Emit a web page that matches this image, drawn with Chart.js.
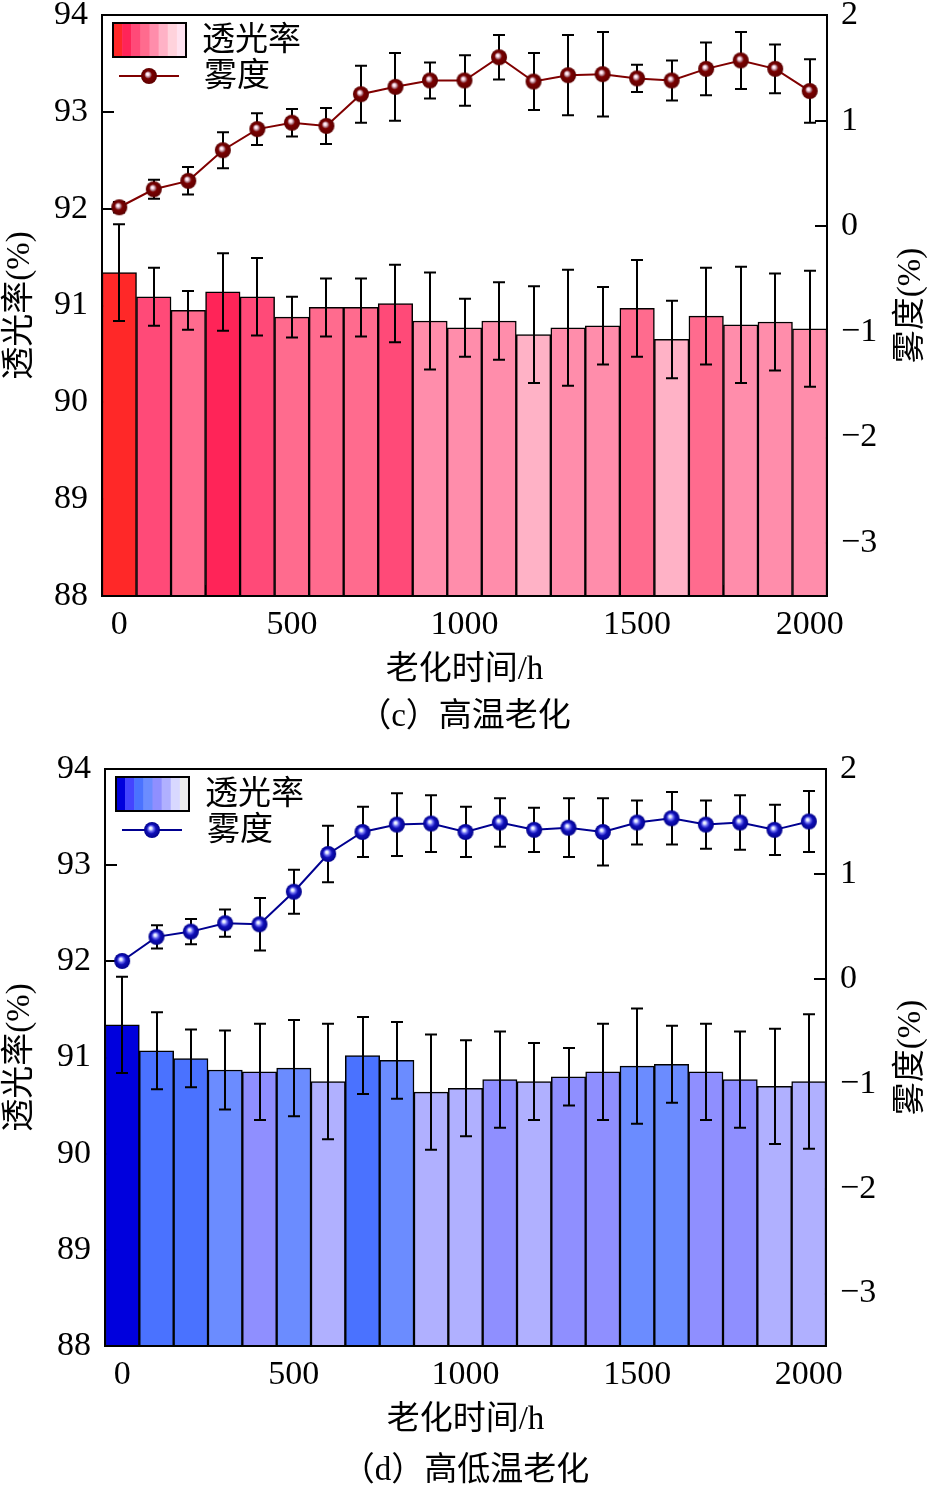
<!DOCTYPE html>
<html><head><meta charset="utf-8">
<script src="https://cdn.jsdelivr.net/npm/chart.js@4.4.1/dist/chart.umd.min.js"></script>
<style>
html,body{margin:0;padding:0;background:#fff;}
#wrap{position:relative;width:927px;height:1487px;overflow:hidden;background:#fff;}
canvas{position:absolute;left:0;}
</style></head><body>
<div id="wrap">
<canvas id="cv1" width="927" height="745" style="top:0px;width:927px;height:745px"></canvas>
<canvas id="cv2" width="927" height="742" style="top:745px;width:927px;height:742px"></canvas>
</div>
<script>
// ---------------- data ----------------
const hours = [0,100,200,300,400,500,600,700,800,900,1000,1100,1200,1300,1400,1500,1600,1700,1800,1900,2000];
const xTickValues = [0,500,1000,1500,2000];
const leftTickValues = [88,89,90,91,92,93,94];
const rightTickValues = [-3,-2,-1,0,1,2];

// (c) high temperature ageing
const transC    = [91.34,91.09,90.95,91.14,91.09,90.88,90.98,90.98,91.02,90.84,90.77,90.84,90.70,90.77,90.79,90.97,90.65,90.89,90.80,90.83,90.76];
const transErrC = [0.50,0.30,0.20,0.40,0.40,0.21,0.30,0.30,0.40,0.50,0.30,0.40,0.50,0.60,0.40,0.50,0.40,0.50,0.60,0.50,0.60];
const hazeC     = [0.18,0.35,0.43,0.72,0.92,0.98,0.95,1.25,1.32,1.38,1.38,1.60,1.37,1.43,1.44,1.40,1.38,1.49,1.57,1.49,1.28];
const hazeErrC  = [0.05,0.09,0.13,0.17,0.15,0.13,0.17,0.27,0.32,0.17,0.24,0.21,0.27,0.38,0.40,0.13,0.19,0.25,0.27,0.23,0.30];

// (d) high-low temperature ageing
const transD    = [91.34,91.07,90.99,90.87,90.85,90.89,90.75,91.02,90.97,90.64,90.68,90.77,90.75,90.80,90.85,90.91,90.93,90.85,90.77,90.70,90.75];
const transErrD = [0.50,0.40,0.30,0.41,0.50,0.50,0.60,0.40,0.40,0.60,0.50,0.50,0.40,0.30,0.50,0.60,0.40,0.50,0.50,0.60,0.70];
const hazeD     = [0.17,0.40,0.45,0.53,0.52,0.83,1.19,1.40,1.47,1.48,1.40,1.49,1.42,1.44,1.40,1.49,1.53,1.47,1.49,1.42,1.50];
const hazeErrD  = [0.04,0.11,0.12,0.13,0.25,0.21,0.27,0.24,0.30,0.27,0.24,0.23,0.21,0.28,0.32,0.21,0.25,0.23,0.26,0.24,0.29];

const labelTrans = '透光率';
const labelHaze = '雾度';
const xTitle = '老化时间/h';
const yLeftTitle = '透光率(%)';
const yRightTitle = '雾度(%)';
const captionC = '（c）高温老化';
const captionD = '（d）高低温老化';

// ---------------- styles ----------------
const pinkShades = ['#ff2828','#ff2458','#ff4a78','#ff6b8e','#ff8dab','#ffb2c6'];
const pinkIdx = [0,2,3,1,2,3,3,3,2,4,4,4,5,4,4,3,5,3,4,4,4];
const pinkLegend = ['#ff2828','#ff2458','#ff4a78','#ff6b8e','#ff8dab','#ffb2c6','#ffd2dc','#ffe2f0'];
const blueShades = ['#0000dd','#4a72ff','#6b8cff','#8f8fff','#b0b0ff'];
const blueIdx = [0,1,1,2,3,2,4,1,2,4,4,3,4,3,3,2,2,3,3,4,4];
const blueLegend = ['#0000dd','#4444ff','#4a72ff','#6b8cff','#8f8fff','#b0b0ff','#d8d8ff','#eeeeee'];

const FONT = "'Liberation Serif', 'Noto Sans CJK SC', serif";

function sphere(stops) {
  const s = 18, c = document.createElement('canvas');
  c.width = s; c.height = s;
  const g = c.getContext('2d');
  const grad = g.createRadialGradient(s/2 - 1.5, s/2 - 2, 0.3, s/2, s/2, 8.2);
  stops.forEach(st => grad.addColorStop(st[0], st[1]));
  g.fillStyle = grad;
  g.beginPath(); g.arc(s/2, s/2, 8, 0, Math.PI*2); g.fill();
  return c;
}
const redBall = sphere([[0,'#ffffff'],[0.14,'#ffd8e6'],[0.3,'#a87882'],[0.45,'#7c0000'],[1,'#5c0000']]);
const blueBall = sphere([[0,'#ffffff'],[0.14,'#d8e0ff'],[0.32,'#6a6af0'],[0.55,'#1010b8'],[1,'#000088']]);

function drawErr(chart, meta, idx) {
  const ds = chart.data.datasets[idx];
  const ys = chart.scales[meta.yAxisID];
  const ctx = chart.ctx;
  ctx.save();
  ctx.strokeStyle = '#000'; ctx.lineWidth = 2;
  meta.data.forEach((el, i) => {
    const v = ds.data[i].y, e = ds.errors[i];
    const x = Math.round(el.x);
    const y1 = ys.getPixelForValue(v + e), y2 = ys.getPixelForValue(v - e);
    ctx.beginPath();
    ctx.moveTo(x, y1); ctx.lineTo(x, y2);
    ctx.moveTo(x - 6, y1); ctx.lineTo(x + 6, y1);
    ctx.moveTo(x - 6, y2); ctx.lineTo(x + 6, y2);
    ctx.stroke();
  });
  ctx.restore();
}
const errorBarPlugin = {
  id: 'errbars',
  beforeDatasetDraw(chart, args) { if (args.meta.type === 'line') drawErr(chart, args.meta, args.index); },
  afterDatasetDraw(chart, args) { if (args.meta.type === 'bar') drawErr(chart, args.meta, args.index); }
};
const framePlugin = {
  id: 'frame',
  afterDatasetsDraw(chart) {
    const ca = chart.chartArea, ctx = chart.ctx;
    ctx.save(); ctx.strokeStyle = '#000'; ctx.lineWidth = 2;
    ctx.strokeRect(ca.left, ca.top, ca.right - ca.left, ca.bottom - ca.top);
    ctx.restore();
  }
};
function textPlugin(o) {
  return {
    id: 'texts',
    afterDraw(chart) {
      const ca = chart.chartArea, ctx = chart.ctx;
      const midX = (ca.left + ca.right) / 2, midY = (ca.top + ca.bottom) / 2;
      ctx.save();
      ctx.fillStyle = '#000';
      ctx.font = '33px ' + FONT;
      ctx.textAlign = 'center'; ctx.textBaseline = 'middle';
      ctx.fillText(xTitle, midX, ca.bottom + 74);
      ctx.fillText(o.caption, midX, ca.bottom + o.capOff);
      ctx.save(); ctx.translate(20, midY); ctx.rotate(-Math.PI/2); ctx.fillText(yLeftTitle, 0, 0); ctx.restore();
      ctx.save(); ctx.translate(911, midY); ctx.rotate(-Math.PI/2); ctx.fillText(yRightTitle, 0, 0); ctx.restore();
      // legend
      const bx = ca.left + 11, by = ca.top + 8, bw = 73, bh = 34;
      const sw = bw / o.legendColors.length;
      o.legendColors.forEach((c, i) => { ctx.fillStyle = c; ctx.fillRect(bx + i*sw, by, sw + 0.5, bh); });
      ctx.strokeStyle = '#000'; ctx.lineWidth = 2; ctx.strokeRect(bx, by, bw, bh);
      ctx.strokeStyle = o.lineColor; ctx.lineWidth = 2;
      ctx.beginPath(); ctx.moveTo(ca.left + 17, ca.top + 61); ctx.lineTo(ca.left + 77, ca.top + 61); ctx.stroke();
      ctx.drawImage(o.ball, ca.left + 47 - 9, ca.top + 61 - 9);
      ctx.fillStyle = '#000'; ctx.textAlign = 'left';
      ctx.font = '33px ' + FONT;
      ctx.fillText(labelTrans, ca.left + 100, ca.top + 26);
      ctx.fillText(labelHaze, ca.left + 102, ca.top + 62);
      ctx.restore();
    }
  };
}

function makeChart(canvasId, o) {
  const W = 927, H = o.H;
  const tickFont = {family: FONT, size: 34};
  const gridBase = {drawOnChartArea: false, drawTicks: true, color: '#000', tickColor: '#000', lineWidth: 2};
  return new Chart(document.getElementById(canvasId), {
    data: {
      datasets: [
        {
          type: 'line', label: labelHaze, yAxisID: 'y1', order: 0,
          data: hours.map((h, i) => ({x: h, y: o.haze[i]})),
          errors: o.hazeErr,
          borderColor: o.lineColor, borderWidth: 2, tension: 0,
          pointStyle: o.ball, pointRadius: 9, pointHoverRadius: 9
        },
        {
          type: 'bar', label: labelTrans, yAxisID: 'y', order: 1,
          data: hours.map((h, i) => ({x: h, y: o.trans[i]})),
          errors: o.transErr,
          backgroundColor: o.barColors, borderColor: '#000', borderWidth: 1.5,
          barPercentage: 1, categoryPercentage: 1
        }
      ]
    },
    options: {
      responsive: false, animation: false, devicePixelRatio: 1, events: [],
      layout: {padding: {top: o.top, left: 0, right: 0, bottom: 0}},
      plugins: {legend: {display: false}, tooltip: {enabled: false}, title: {display: false}},
      scales: {
        x: {
          type: 'linear', position: 'bottom', min: -50, max: 2050, z: 1, offset: false,
          afterBuildTicks: s => { s.ticks = xTickValues.map(v => ({value: v})); },
          afterFit: s => { s.height = H - o.bottom; s.paddingLeft = 0; s.paddingRight = 0; },
          ticks: {font: tickFont, color: '#000', padding: 20, autoSkip: false, maxRotation: 0, callback: v => String(v)},
          grid: Object.assign({}, gridBase, {tickLength: -11}),
          border: {display: false}
        },
        y: {
          type: 'linear', position: 'left', min: 88, max: 94, z: 1,
          afterBuildTicks: s => { s.ticks = leftTickValues.map(v => ({value: v})); },
          afterFit: s => { s.width = o.left; s.paddingTop = 0; s.paddingBottom = 0; },
          ticks: {font: tickFont, color: '#000', padding: 26, callback: v => String(v)},
          grid: Object.assign({}, gridBase, {tickLength: -12}),
          border: {display: false}
        },
        y1: {
          type: 'linear', position: 'right', min: -3.5, max: 2, z: 1,
          afterBuildTicks: s => { s.ticks = rightTickValues.map(v => ({value: v})); },
          afterFit: s => { s.width = W - o.right; s.paddingTop = 0; s.paddingBottom = 0; },
          ticks: {font: tickFont, color: '#000', padding: 26, callback: v => String(v).replace('-', '\u2212')},
          grid: Object.assign({}, gridBase, {tickLength: -12}),
          border: {display: false}
        }
      }
    },
    plugins: [errorBarPlugin, framePlugin, textPlugin(o)]
  });
}

makeChart('cv1', {
  H: 745, top: 15, bottom: 596, left: 102, right: 827, capOff: 121,
  trans: transC, transErr: transErrC, haze: hazeC, hazeErr: hazeErrC,
  barColors: pinkIdx.map(i => pinkShades[i]), legendColors: pinkLegend,
  lineColor: '#800000', ball: redBall, caption: captionC
});
makeChart('cv2', {
  H: 742, top: 24, bottom: 601, left: 105, right: 826, capOff: 125,
  trans: transD, transErr: transErrD, haze: hazeD, hazeErr: hazeErrD,
  barColors: blueIdx.map(i => blueShades[i]), legendColors: blueLegend,
  lineColor: '#000090', ball: blueBall, caption: captionD
});
</script>
</body></html>
